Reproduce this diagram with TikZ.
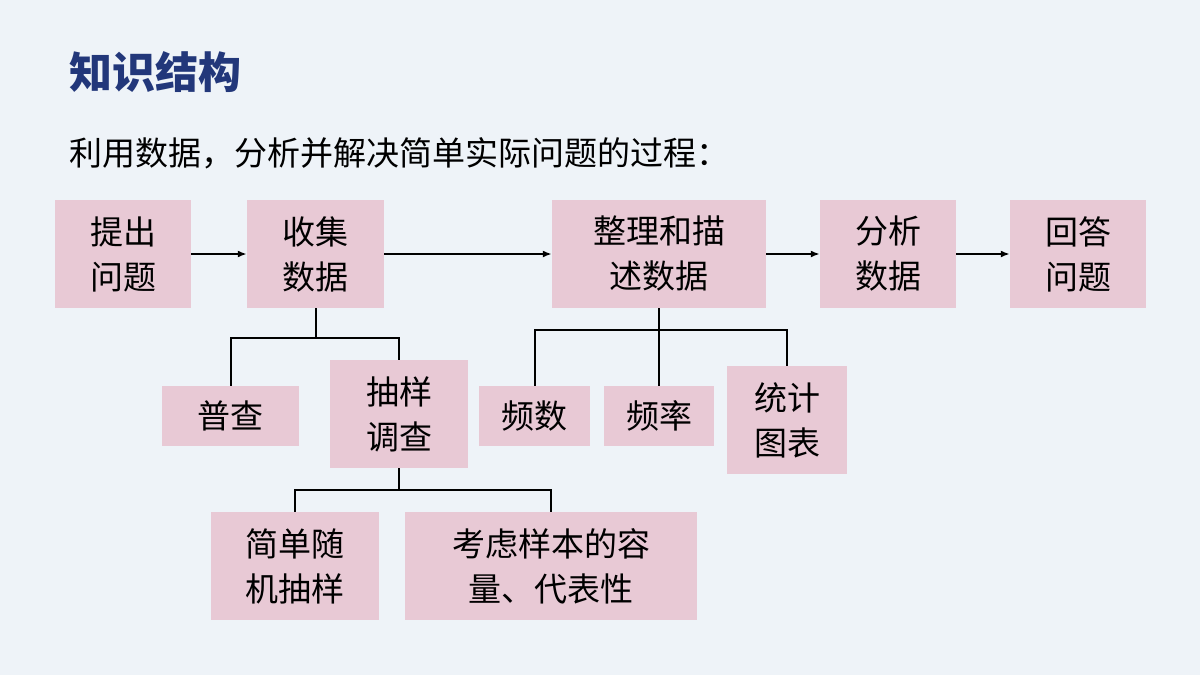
\documentclass[tikz,border=0pt]{standalone}
\usepackage{fontspec}
\newfontfamily\cjk{Noto Sans CJK SC}
\usetikzlibrary{arrows.meta}
\definecolor{bg}{HTML}{EEF3F8}
\definecolor{boxc}{HTML}{E8C9D5}
\definecolor{titc}{HTML}{22377A}
\begin{document}
\begin{tikzpicture}[x=1pt,y=-1pt,
 bx/.style={fill=boxc,draw=none,inner sep=0pt,align=center,font=\cjk\fontsize{33}{45}\selectfont},
 ln/.style={line width=2pt,black},
 ar/.style={ln,-{Latex[length=9pt,width=7pt]}}]
\fill[bg] (0,0) rectangle (1200,675);
\useasboundingbox (0,0) rectangle (1200,675);
\node[anchor=west,text=titc,font=\cjk\bfseries\fontsize{43}{50}\selectfont] (t) at (66,72) {知识结构};
\node[anchor=west,font=\cjk\fontsize{33}{40}\selectfont] (s) at (66,153) {利用数据，分析并解决简单实际问题的过程：};
\node[bx,minimum width=136pt,minimum height=108pt] (a) at (123,254) {提出\\问题};
\node[bx,minimum width=137pt,minimum height=108pt] (b) at (315.5,254) {收集\\数据};
\node[bx,minimum width=214pt,minimum height=108pt] (c) at (659,254) {整理和描\\述数据};
\node[bx,minimum width=136pt,minimum height=108pt] (d) at (888,254) {分析\\数据};
\node[bx,minimum width=136pt,minimum height=108pt] (e) at (1078,254) {回答\\问题};
\node[bx,minimum width=137pt,minimum height=60pt] (p) at (230.5,416) {普查};
\node[bx,minimum width=138pt,minimum height=108pt] (q) at (399,414) {抽样\\调查};
\node[bx,minimum width=111pt,minimum height=60pt] (f1) at (534.5,416) {频数};
\node[bx,minimum width=110pt,minimum height=60pt] (f2) at (659,416) {频率};
\node[bx,minimum width=120pt,minimum height=108pt] (f3) at (787,420) {统计\\图表};
\node[bx,minimum width=168pt,minimum height=108pt] (g1) at (295,566) {简单随\\机抽样};
\node[bx,minimum width=292pt,minimum height=108pt] (g2) at (551,566) {考虑样本的容\\量、代表性};
\draw[ar] (a) -- (b);
\draw[ar] (b) -- (c);
\draw[ar] (c) -- (d);
\draw[ar] (d) -- (e);
\draw[ln] (b.south) -- ++(0,30) coordinate (b1);
\draw[ln] (p.north) |- (b1) -| (q.north);
\draw[ln] (c.south) -- (f2.north);
\draw[ln] (f1.north) -- ++(0,-56) -| (f3.north);
\draw[ln] (q.south) -- ++(0,22) coordinate (q1);
\draw[ln] (g1.north) |- (q1) -| (g2.north);
\end{tikzpicture}
\end{document}
